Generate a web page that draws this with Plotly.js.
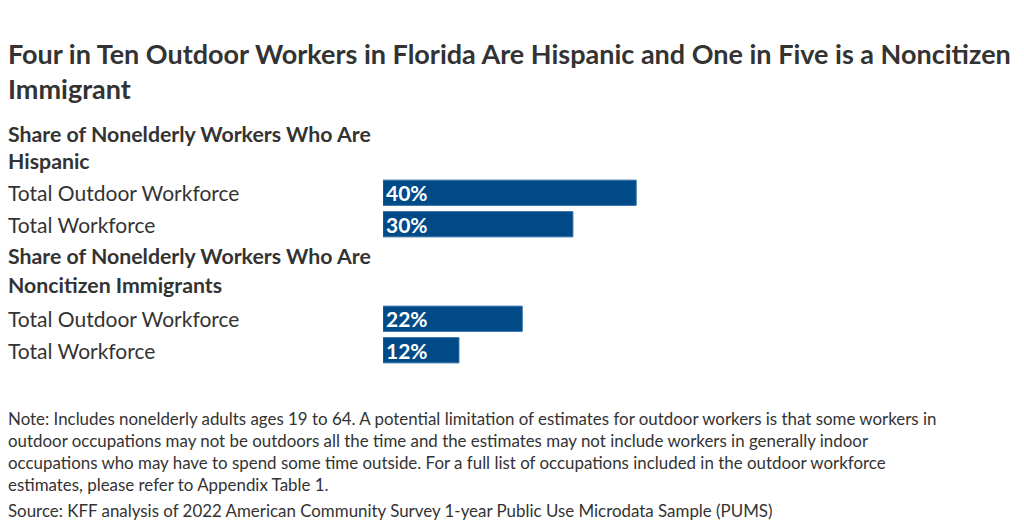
<!DOCTYPE html>
<html>
<head>
<meta charset="utf-8">
<script src="https://cdn.plot.ly/plotly-3.0.1.min.js"></script>
<style>html,body{margin:0;padding:0;background:#fff;}#chart{width:1024px;height:528px;}</style>
</head>
<body>
<div id="chart"></div>
<script>
// ---- data ----
var titleText = "Four in Ten Outdoor Workers in Florida Are Hispanic and One in Five is a Noncitizen<br>Immigrant";
var groupHeaders = [
  ["Share of Nonelderly Workers Who Are", "Hispanic"],
  ["Share of Nonelderly Workers Who Are", "Noncitizen Immigrants"]
];
var categories = ["Total Outdoor Workforce", "Total Workforce"];
var hispanicShare = [40, 30];
var noncitizenShare = [22, 12];
var noteLines = [
  "Note: Includes nonelderly adults ages 19 to 64. A potential limitation of estimates for outdoor workers is that some workers in",
  "outdoor occupations may not be outdoors all the time and the estimates may not include workers in generally indoor",
  "occupations who may have to spend some time outside. For a full list of occupations included in the outdoor workforce",
  "estimates, please refer to Appendix Table 1."
];
var sourceText = "Source: KFF analysis of 2022 American Community Survey 1-year Public Use Microdata Sample (PUMS)";

// ---- build rows ----
var groupValues = [hispanicShare, noncitizenShare];
var rowKeys = [], barY = [], barX = [], barText = [], annotations = [];
var FONT = "Lato, 'Open Sans', sans-serif";
var TEXTC = "#333333";
groupHeaders.forEach(function (lines, g) {
  lines.forEach(function (line, i) {
    var key = "g" + g + "_h" + i;
    rowKeys.push(key);
    var ys = 0;
    if (g === 0 && i === 0) ys = -4;
    if (g === 1 && i === 1) ys = 2;
    annotations.push({xref: "paper", yref: "y", x: 0, y: key, xanchor: "left", yanchor: "middle",
      xshift: -2, yshift: ys,
      text: "<b>" + line + "</b>", showarrow: false, font: {family: FONT, size: 21.3, color: TEXTC}});
  });
  categories.forEach(function (cat, c) {
    var key = "g" + g + "_c" + c;
    rowKeys.push(key);
    barY.push(key);
    barX.push(groupValues[g][c]);
    barText.push("<b>" + groupValues[g][c] + "%</b>");
    annotations.push({xref: "paper", yref: "y", x: 0, y: key, xanchor: "left", yanchor: "middle",
      xshift: -2,
      text: cat, showarrow: false, font: {family: FONT, size: 21, color: TEXTC}});
  });
});

var H = 528, mt = 114, mb = 162;
var plotH = H - mt - mb;
function py(pix) { return (H - mb - pix) / plotH; }
noteLines.forEach(function (line, i) {
  annotations.push({xref: "paper", yref: "paper", x: 0, y: py(418 + 22 * i), xanchor: "left", yanchor: "middle",
    xshift: -2, text: line, showarrow: false, font: {family: FONT, size: 16.9, color: TEXTC}});
});
annotations.push({xref: "paper", yref: "paper", x: 0, y: py(510), xanchor: "left", yanchor: "middle",
  xshift: -2, text: sourceText, showarrow: false, font: {family: FONT, size: 16.9, color: TEXTC}});

var trace = {
  type: "bar", orientation: "h",
  x: barX, y: barY,
  text: barText, textposition: "inside", insidetextanchor: "start",
  textfont: {family: FONT, size: 21, color: "#ffffff"},
  constraintext: "none",
  marker: {color: "#004a87", line: {color: "#2a6aa3", width: 1}},
  width: 0.8, hoverinfo: "none"
};

var layout = {
  width: 1024, height: 528,
  margin: {l: 8, r: 8, t: mt, b: mb},
  paper_bgcolor: "#ffffff", plot_bgcolor: "#ffffff",
  title: {text: "<b>" + titleText + "</b>", x: 0, xref: "paper", xanchor: "left",
    y: 1 - 64 / H, yref: "container", yanchor: "top",
    font: {family: FONT, size: 27, color: TEXTC}},
  xaxis: {domain: [0.372, 1], range: [0, 100], visible: false, fixedrange: true},
  yaxis: {type: "category", categoryorder: "array", categoryarray: rowKeys,
    range: [rowKeys.length - 0.5, -0.5], visible: false, fixedrange: true},
  showlegend: false,
  annotations: annotations
};

Plotly.newPlot("chart", [trace], layout, {displayModeBar: false, staticPlot: true});
</script>
</body>
</html>
